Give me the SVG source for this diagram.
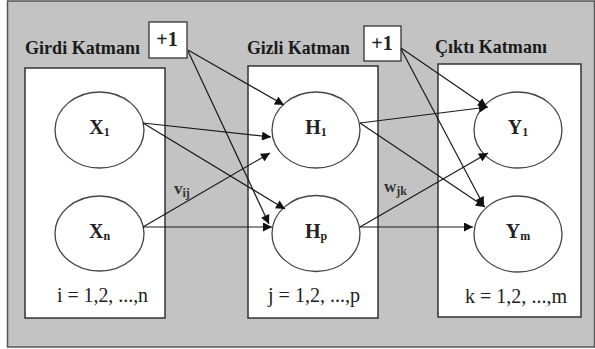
<svg xmlns="http://www.w3.org/2000/svg" width="595" height="349" viewBox="0 0 595 349">
<defs>
<marker id="ah" viewBox="0 0 10 10" refX="10" refY="5" markerWidth="10" markerHeight="9" markerUnits="userSpaceOnUse" orient="auto">
<path d="M0,0 L10,5 L0,10 z" fill="#111"/>
</marker>
<style>
.layer{fill:#fff;stroke:#333;stroke-width:1.5}
.node{fill:#fff;stroke:#444;stroke-width:1.3}
.bias{fill:#fff;stroke:#333;stroke-width:1.3}
.edge{stroke:#1a1a1a;stroke-width:1.2;fill:none;marker-end:url(#ah)}
.head{font-weight:bold;font-size:19px;fill:#1a1a1a}
.nl{font-weight:bold;font-size:20px;fill:#222;text-anchor:middle}
.sub{font-size:12px}
.idx{font-size:20px;fill:#222;text-anchor:middle}
.el{font-weight:bold;font-size:17px;fill:#333}
</style>
</defs>
<rect x="7.5" y="1" width="587" height="346" fill="#c3c3c3" stroke="#555" stroke-width="1.5"/>
<g id="layer-input">
<rect class="layer" x="25" y="68" width="140" height="250"/>
<text class="head" font-family="Liberation Serif" x="25" y="54" textLength="115" lengthAdjust="spacingAndGlyphs">Girdi Katmanı</text>
<text class="idx" font-family="Liberation Serif" x="102.5" y="302" textLength="91" lengthAdjust="spacingAndGlyphs">i = 1,2, ...,n</text>
</g>
<g id="layer-hidden">
<rect class="layer" x="248" y="66" width="130" height="252"/>
<text class="head" font-family="Liberation Serif" x="247" y="54" textLength="103" lengthAdjust="spacingAndGlyphs">Gizli Katman</text>
<text class="idx" font-family="Liberation Serif" x="314" y="302" textLength="92" lengthAdjust="spacingAndGlyphs">j = 1,2, ...,p</text>
</g>
<g id="layer-output">
<rect class="layer" x="438" y="64" width="143" height="253"/>
<text class="head" font-family="Liberation Serif" x="435" y="53" textLength="112" lengthAdjust="spacingAndGlyphs">Çıktı Katmanı</text>
<text class="idx" font-family="Liberation Serif" x="516" y="303" textLength="102" lengthAdjust="spacingAndGlyphs">k = 1,2, ...,m</text>
</g>
<g id="bias1">
<rect class="bias" x="149" y="22" width="38" height="36"/>
<text class="nl" font-family="Liberation Serif" x="167" y="46">+1</text>
</g>
<g id="bias2">
<rect class="bias" x="364" y="26" width="37" height="35"/>
<text class="nl" font-family="Liberation Serif" x="382" y="50">+1</text>
</g>
<g id="X1">
<ellipse class="node" cx="99.5" cy="130" rx="44.5" ry="38"/>
<text class="nl" font-family="Liberation Serif" x="99.5" y="134">X<tspan class="sub" dy="2">1</tspan></text>
</g>
<g id="Xn">
<ellipse class="node" cx="99.5" cy="233.5" rx="44.5" ry="37.5"/>
<text class="nl" font-family="Liberation Serif" x="99.5" y="238">X<tspan class="sub" dy="2">n</tspan></text>
</g>
<g id="H1">
<ellipse class="node" cx="316" cy="130" rx="44" ry="38"/>
<text class="nl" font-family="Liberation Serif" x="316" y="134">H<tspan class="sub" dy="2">1</tspan></text>
</g>
<g id="Hp">
<ellipse class="node" cx="316" cy="233.5" rx="44" ry="38"/>
<text class="nl" font-family="Liberation Serif" x="316" y="238">H<tspan class="sub" dy="2">p</tspan></text>
</g>
<g id="Y1">
<ellipse class="node" cx="518" cy="130" rx="44" ry="38"/>
<text class="nl" font-family="Liberation Serif" x="518" y="134">Y<tspan class="sub" dy="2">1</tspan></text>
</g>
<g id="Ym">
<ellipse class="node" cx="518" cy="234" rx="44" ry="38"/>
<text class="nl" font-family="Liberation Serif" x="518" y="238">Y<tspan class="sub" dy="2">m</tspan></text>
</g>
<g id="connectors">
<line class="edge" x1="143" y1="123" x2="271" y2="137"/>
<line class="edge" x1="143" y1="123" x2="285" y2="209"/>
<line class="edge" x1="143" y1="227" x2="270" y2="153"/>
<line class="edge" x1="143" y1="227" x2="272" y2="227"/>
<line class="edge" x1="188" y1="50" x2="284" y2="105"/>
<line class="edge" x1="188" y1="51" x2="269" y2="224"/>
<line class="edge" x1="360" y1="123" x2="488" y2="107"/>
<line class="edge" x1="360" y1="123" x2="485" y2="207"/>
<line class="edge" x1="360" y1="227" x2="488" y2="153"/>
<line class="edge" x1="360" y1="227" x2="473" y2="227"/>
<line class="edge" x1="401" y1="48" x2="487" y2="107"/>
<line class="edge" x1="401" y1="49" x2="484" y2="206"/>
<text class="el" font-family="Liberation Serif" x="174" y="194">v<tspan class="sub" dy="3">ij</tspan></text>
<text class="el" font-family="Liberation Serif" x="384" y="192">w<tspan class="sub" dy="3">jk</tspan></text>
</g>
</svg>
